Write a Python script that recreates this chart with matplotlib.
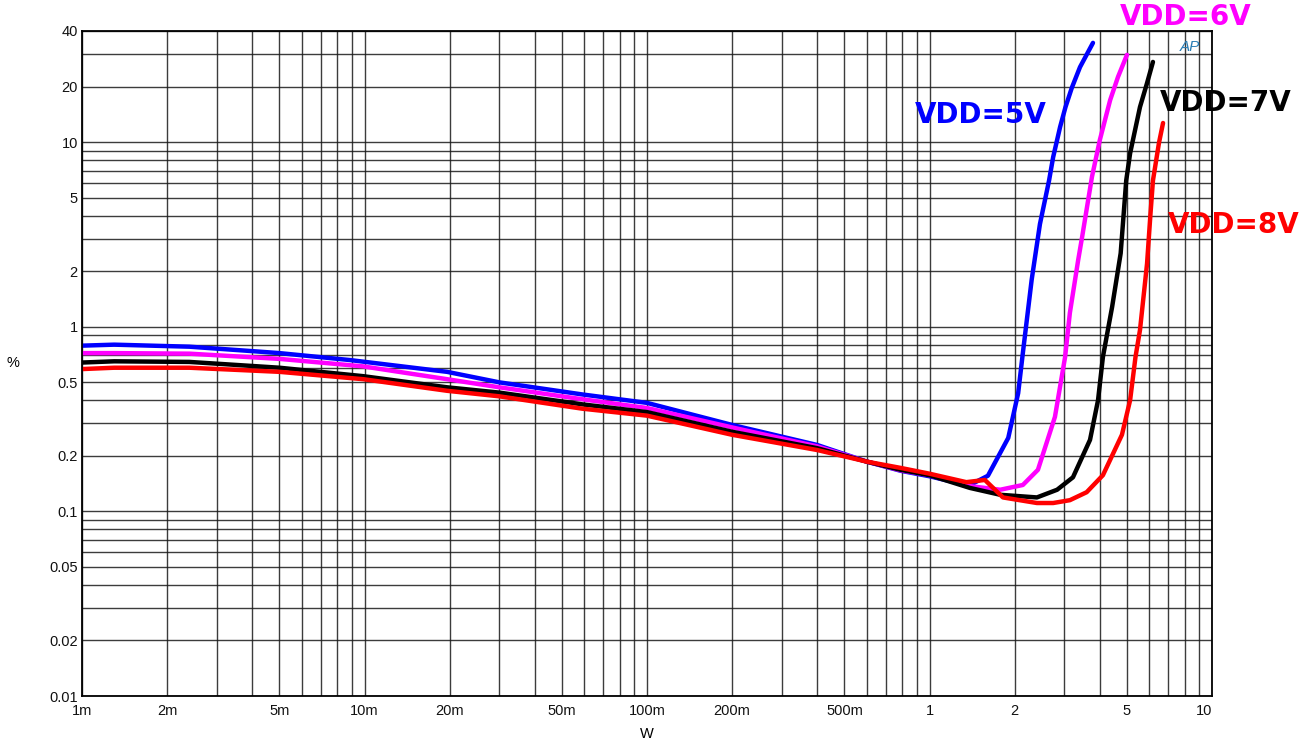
import matplotlib
matplotlib.use("Agg")
import matplotlib.pyplot as plt
from matplotlib.ticker import FixedLocator, NullFormatter, LogLocator

blue_x = [0.001, 0.0013, 0.0024, 0.0039, 0.005, 0.0089, 0.0196, 0.03, 0.059, 0.1, 0.2, 0.4, 0.6, 0.79,
          1.0, 1.2, 1.39, 1.61, 1.9, 2.06, 2.14, 2.3, 2.46, 2.65, 2.74, 2.9, 3.03, 3.19, 3.41, 3.79]
blue_y = [0.79, 0.80, 0.78, 0.74, 0.72, 0.66, 0.57, 0.50, 0.43, 0.387, 0.294, 0.229, 0.186, 0.166,
          0.155, 0.145, 0.139, 0.156, 0.25, 0.437, 0.72, 1.8, 3.6, 6.2, 8.3, 12.1, 15.5, 19.7, 25.5, 34.5]

mag_x = [0.001, 0.0013, 0.0024, 0.005, 0.0099, 0.0196, 0.03, 0.059, 0.1, 0.2, 0.4, 0.6, 0.79, 1.0,
         1.39, 1.78, 2.14, 2.42, 2.78, 3.02, 3.14, 3.36, 3.47, 3.76, 4.01, 4.36, 4.65, 5.0]
mag_y = [0.72, 0.72, 0.715, 0.67, 0.61, 0.52, 0.47, 0.405, 0.363, 0.285, 0.225, 0.186, 0.167, 0.157,
         0.137, 0.131, 0.139, 0.168, 0.325, 0.686, 1.19, 2.3, 3.07, 6.5, 10.3, 16.9, 22.6, 29.7]

blk_x = [0.001, 0.0013, 0.0024, 0.005, 0.0099, 0.0196, 0.03, 0.059, 0.1, 0.2, 0.4, 0.6, 0.79, 1.0,
         1.39, 1.78, 2.4, 2.83, 3.22, 3.7, 3.95, 4.11, 4.43, 4.75, 4.97, 5.13, 5.56, 5.89, 6.18]
blk_y = [0.64, 0.65, 0.645, 0.60, 0.54, 0.47, 0.44, 0.38, 0.345, 0.27, 0.22, 0.186, 0.168, 0.157,
         0.134, 0.123, 0.119, 0.131, 0.153, 0.244, 0.40, 0.686, 1.28, 2.5, 6.2, 8.7, 15.5, 20.9, 27.2]

red_x = [0.001, 0.0013, 0.0024, 0.005, 0.0099, 0.0196, 0.03, 0.059, 0.1, 0.2, 0.4, 0.6, 0.79, 1.0,
         1.35, 1.57, 1.82, 2.4, 2.74, 3.14, 3.6, 4.11, 4.8, 5.13, 5.36, 5.56, 5.89, 6.05, 6.18, 6.49, 6.71]
red_y = [0.59, 0.60, 0.60, 0.57, 0.52, 0.45, 0.42, 0.36, 0.33, 0.26, 0.215, 0.186, 0.172, 0.16,
         0.144, 0.148, 0.119, 0.111, 0.111, 0.115, 0.127, 0.157, 0.26, 0.40, 0.686, 0.96, 2.2, 4.0, 6.2, 9.9, 12.7]

series = [
    (blue_x, blue_y, "#0000ff", "VDD=5V"),
    (mag_x, mag_y, "#ff00ff", "VDD=6V"),
    (blk_x, blk_y, "#000000", "VDD=7V"),
    (red_x, red_y, "#ff0000", "VDD=8V"),
]

x_ticks = [0.001, 0.002, 0.005, 0.01, 0.02, 0.05, 0.1, 0.2, 0.5, 1, 2, 5, 10]
x_labels = ["1m", "2m", "5m", "10m", "20m", "50m", "100m", "200m", "500m", "1", "2", "5", "10"]
y_ticks = [0.01, 0.02, 0.05, 0.1, 0.2, 0.5, 1, 2, 5, 10, 20, 40]
y_labels = ["0.01", "0.02", "0.05", "0.1", "0.2", "0.5", "1", "2", "5", "10", "20", "40"]

plt.rcParams["font.family"] = ["Liberation Sans", "DejaVu Sans"]

fig = plt.figure(figsize=(13.12, 7.45), dpi=100)
ax = fig.add_axes([82 / 1312, 1 - 696 / 745, (1212 - 82) / 1312, (696 - 31) / 745])
ax.set_xscale("log")
ax.set_yscale("log")
ax.set_xlim(0.001, 10)
ax.set_ylim(0.01, 40)

ax.xaxis.set_major_locator(FixedLocator(x_ticks))
ax.xaxis.set_minor_locator(LogLocator(base=10, subs=range(1, 10), numticks=20))
ax.xaxis.set_minor_formatter(NullFormatter())
ax.set_xticklabels(x_labels)
ax.yaxis.set_major_locator(FixedLocator(y_ticks))
ax.yaxis.set_minor_locator(LogLocator(base=10, subs=range(1, 10), numticks=20))
ax.yaxis.set_minor_formatter(NullFormatter())
ax.set_yticklabels(y_labels)

ax.tick_params(which="both", length=0, labelsize=10.5, colors="#111111")
ax.tick_params(axis="x", pad=6)
ax.tick_params(axis="y", pad=3)
ax.get_xticklabels()[-1].set_horizontalalignment("right")

ax.grid(True, which="both", color="#1a1a1a", linewidth=1.0, alpha=0.85)
for sp in ax.spines.values():
    sp.set_linewidth(1.3)
    sp.set_color("black")

for xs, ys, c, name in series:
    ax.plot(xs, ys, color=c, linewidth=3.2, solid_joinstyle="round", solid_capstyle="round")

ax.set_xlabel("W", fontsize=10.5, labelpad=6)
ax.set_ylabel("%", fontsize=10.5, rotation=0, labelpad=26, va="center")

# curve labels
label_pos = {
    "VDD=5V": (915, 115),
    "VDD=6V": (1120, 17),
    "VDD=7V": (1160, 103),
    "VDD=8V": (1168, 225),
}
for xs, ys, c, name in series:
    px, py = label_pos[name]
    fig.text(px / 1312, 1 - py / 745, name, color=c, fontsize=20, fontweight="bold",
             family="DejaVu Sans", ha="left", va="center")

# AP logo
fig.text(1190 / 1312, 1 - 47 / 745, "AP", color="#2a7db5", fontsize=11, style="italic",
         ha="center", va="center")

fig.savefig("out.png", dpi=100)
